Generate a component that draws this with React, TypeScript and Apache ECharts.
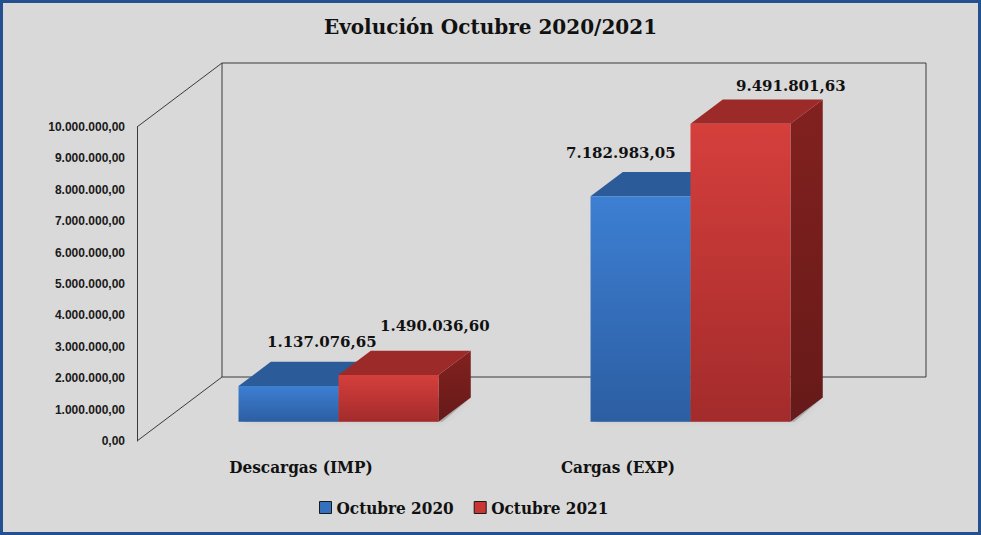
import React, { useEffect, useRef } from "react";
import * as echarts from "echarts";

const CATEGORIES = ["Descargas (IMP)", "Cargas (EXP)"];
const SERIES_NAMES = ["Octubre 2020", "Octubre 2021"];
const VALUES_2020 = [1137076.65, 7182983.05];
const VALUES_2021 = [1490036.6, 9491801.63];
const Y_MIN = 0;
const Y_MAX = 10000000;
const Y_STEP = 1000000;

// layout / style constants
const DEPTH = [85, -64];
const FRONT_F = 0.3;
const BACK_F = 0.68;
const BAR_FRAC = 0.284;
const LABEL_SHIFT_2020 = [[1, -20], [-52, -19]];
const LABEL_SHIFT_2021 = [[14, -25], [18, -13]];
const SERIF = "'DejaVu Serif', 'Liberation Serif', serif";
const SERIF_C = "'DejaVu Serif Condensed', 'DejaVu Serif', 'Liberation Serif', serif";

function fmt(v: number): string {
  const neg = v < 0;
  const s = Math.abs(v).toFixed(2);
  const [int, dec] = s.split(".");
  let out = "";
  for (let i = 0; i < int.length; i++) {
    if (i > 0 && (int.length - i) % 3 === 0) out += ".";
    out += int[i];
  }
  return (neg ? "-" : "") + out + "," + dec;
}

const BLUE = {
  front: new echarts.graphic.LinearGradient(0, 0, 0, 1, [
    { offset: 0, color: "#3d7fd3" },
    { offset: 1, color: "#2c5ea2" },
  ]),
  top: "#2b5b98",
  side: "#1f4677",
};
const RED = {
  front: new echarts.graphic.LinearGradient(0, 0, 0, 1, [
    { offset: 0, color: "#d53f3c" },
    { offset: 1, color: "#a32b2b" },
  ]),
  top: "#9c2a29",
  side: new echarts.graphic.LinearGradient(0, 0, 0, 1, [
    { offset: 0, color: "#82211f" },
    { offset: 1, color: "#661a19" },
  ]),
};

function makeBarRender(side: number, colors: any, shifts: number[][], values: number[]) {
  return (params: any, api: any) => {
    const ci = api.value(0);
    const v = api.value(1);
    const base = api.coord([ci, 0]);
    const topP = api.coord([ci, v]);
    const catW = api.size([1, 0])[0];
    const w = catW * BAR_FRAC;
    const fx = DEPTH[0] * FRONT_F;
    const fy = DEPTH[1] * FRONT_F;
    const dx = DEPTH[0] * (BACK_F - FRONT_F);
    const dy = DEPTH[1] * (BACK_F - FRONT_F);
    const x0 = base[0] + (side === 0 ? -w : 0) + fx;
    const x1 = x0 + w;
    const yb = base[1] + fy;
    const yt = topP[1] + fy;
    const sh = shifts[params.dataIndex] || [0, -20];
    return {
      type: "group",
      children: [
        {
          type: "polygon",
          shape: { points: [[x0 + 4, yb], [x1 + 4, yb], [x1 + dx, yb + dy], [x0 + dx, yb + dy]] },
          style: { fill: "rgba(0,0,0,0.18)", shadowBlur: 6, shadowColor: "rgba(0,0,0,0.4)" },
        },
        {
          type: "polygon",
          shape: { points: [[x1, yt], [x1 + dx, yt + dy], [x1 + dx, yb + dy], [x1, yb]] },
          style: { fill: colors.side },
        },
        {
          type: "polygon",
          shape: { points: [[x0, yt], [x0 + dx, yt + dy], [x1 + dx, yt + dy], [x1, yt]] },
          style: { fill: colors.top },
        },
        {
          type: "rect",
          shape: { x: x0, y: yt, width: w, height: yb - yt },
          style: { fill: colors.front },
        },
        {
          type: "text",
          style: {
            x: (x0 + x1) / 2 + dx + sh[0],
            y: yt + dy + sh[1],
            text: fmt(values[params.dataIndex]),
            align: "center",
            verticalAlign: "middle",
            font: "bold 15px " + SERIF,
            fill: "#111111",
          },
        },
      ],
    };
  };
}

function frameRender(params: any, api: any) {
  const cs = params.coordSys;
  const x = cs.x, y = cs.y, w = cs.width, h = cs.height;
  const bx = x + DEPTH[0], by = y + DEPTH[1];
  const ls = { stroke: "#3a3a3a", lineWidth: 1, fill: "none" };
  return {
    type: "group",
    children: [
      { type: "rect", shape: { x: bx, y: by, width: w, height: h }, style: ls },
      { type: "line", shape: { x1: x, y1: y, x2: bx, y2: by }, style: ls },
      { type: "line", shape: { x1: x, y1: y + h, x2: bx, y2: by + h }, style: ls },
    ],
  };
}

export default function App() {
  const ref = useRef<HTMLDivElement>(null);
  useEffect(() => {
    if (!ref.current) return;
    const chart = echarts.init(ref.current, null, { renderer: "svg" });
    chart.setOption({
      animation: false,
      backgroundColor: "#d9d9d9",
      title: {
        text: "Evolución Octubre 2020/2021",
        left: "center",
        top: 12,
        textStyle: { fontFamily: SERIF, fontWeight: "bold", fontSize: 20, color: "#111111" },
      },
      graphic: [
        {
          type: "rect",
          shape: { x: 1.5, y: 1.5, width: 978, height: 532 },
          style: { fill: "none", stroke: "#25508f", lineWidth: 3 },
          z: 100,
        },
      ],
      legend: {
        left: 314,
        top: 494,
        itemWidth: 12,
        itemHeight: 12,
        itemGap: 20,
        icon: "rect",
        data: [
          { name: SERIES_NAMES[0], itemStyle: { color: "#3470c0", borderColor: "#1a1a1a", borderWidth: 1 } },
          { name: SERIES_NAMES[1], itemStyle: { color: "#c83533", borderColor: "#1a1a1a", borderWidth: 1 } },
        ],
        textStyle: { fontFamily: SERIF_C, fontWeight: "bold", fontSize: 17, color: "#111111" },
      },
      grid: { left: 137, right: 140, top: 127, bottom: 94, containLabel: false },
      xAxis: {
        type: "category",
        data: CATEGORIES,
        axisLine: { show: false },
        axisTick: { show: false },
        axisLabel: {
          margin: 17,
          formatter: (val: string, idx: number) => "{c" + idx + "|" + val + "}",
          rich: {
            c0: { fontFamily: SERIF_C, fontWeight: "bold", fontSize: 17, color: "#111111", padding: [0, 24, 0, 0] },
            c1: { fontFamily: SERIF_C, fontWeight: "bold", fontSize: 17, color: "#111111", padding: [0, 94, 0, 0] },
          },
        },
      },
      yAxis: {
        type: "value",
        min: Y_MIN,
        max: Y_MAX,
        interval: Y_STEP,
        axisLine: { show: true, lineStyle: { color: "#3a3a3a", width: 1 } },
        axisTick: { show: false },
        splitLine: { show: false },
        axisLabel: {
          margin: 12,
          formatter: (v: number) => fmt(v),
          fontFamily: "'Liberation Sans', Arial, sans-serif",
          fontWeight: "bold",
          fontSize: 12,
          color: "#1a1a1a",
        },
      },
      series: [
        {
          type: "custom",
          name: "frame",
          renderItem: frameRender,
          data: [[0, 0]],
          z: 1,
          silent: true,
        },
        {
          type: "custom",
          name: SERIES_NAMES[0],
          renderItem: makeBarRender(0, BLUE, LABEL_SHIFT_2020, VALUES_2020),
          data: VALUES_2020.map((v, i) => [i, v]),
          itemStyle: { color: "#3470c0" },
          z: 2,
        },
        {
          type: "custom",
          name: SERIES_NAMES[1],
          renderItem: makeBarRender(1, RED, LABEL_SHIFT_2021, VALUES_2021),
          data: VALUES_2021.map((v, i) => [i, v]),
          itemStyle: { color: "#c83533" },
          z: 3,
        },
      ],
    });
    return () => chart.dispose();
  }, []);
  return (
    <div
      ref={ref}
      style={{ position: "fixed", left: 0, top: 0, width: 981, height: 535 }}
    />
  );
}
